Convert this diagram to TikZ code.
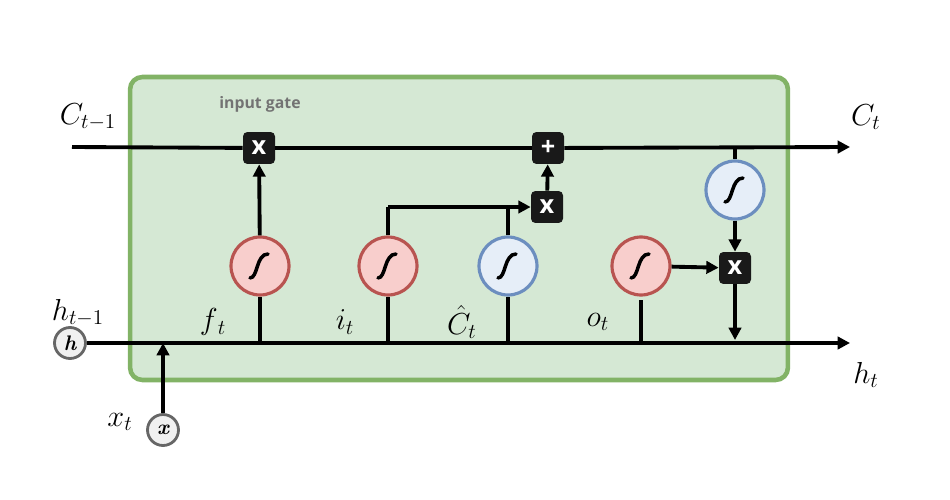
\documentclass[tikz,border=0pt]{standalone}
\usepackage{fontspec}
\newfontfamily\labfont{Open Sans}
\usetikzlibrary{arrows.meta}
\definecolor{boxfill}{HTML}{D5E8D4}
\definecolor{boxline}{HTML}{82B366}
\definecolor{redfill}{HTML}{F8CECC}
\definecolor{redline}{HTML}{B85450}
\definecolor{bluefill}{HTML}{E6EEF8}
\definecolor{blueline}{HTML}{6C8EBF}
\begin{document}
\begin{tikzpicture}[x=0.02cm,y=-0.02cm,
  ln/.style={line width=2.2pt,black},
  arr/.style={ln,-{Triangle[length=7pt,width=7pt]}},
  op/.style={fill=black!90,rounded corners=2.5pt,minimum size=0.64cm,inner sep=0pt,text=white,font=\labfont\bfseries\Large},
  sig/.style={circle,minimum size=1.16cm,line width=1.8pt,inner sep=0pt},
  rsig/.style={sig,fill=redfill,draw=redline},
  bsig/.style={sig,fill=bluefill,draw=blueline},
  io/.style={circle,minimum size=0.62cm,inner sep=0pt,draw=gray!80!black,line width=1.6pt,fill=gray!12,font=\bfseries\itshape\large},
  lab/.style={font=\LARGE\itshape}]
\useasboundingbox (0,0) rectangle (950,500);
\node[draw=boxline,fill=boxfill,line width=2.6pt,rounded corners=7pt,minimum width=13.16cm,minimum height=6.06cm] (box) at (459,228.5) {};
% nodes
\node[op] (m1) at (259,148) {x};
\node[op] (p1) at (548,148) {+};
\node[op] (m2) at (547,207) {x};
\node[op] (m3) at (735,268) {x};
\node[rsig] (sf) at (260,266) {};
\node[rsig] (si) at (388,266) {};
\node[bsig] (sc) at (508,266) {};
\node[rsig] (so) at (641,266) {};
\node[bsig] (st) at (735,190) {};
\foreach \n in {sf,si,sc,so,st}{
  \draw[line width=2pt,line cap=round] ([shift={(-10,12)}]\n.center) .. controls ([shift={(-2,12)}]\n.center) and ([shift={(-4,-12)}]\n.center) .. ([shift={(8,-12)}]\n.center);}
\node[io] (h) at (70,343) {h};
\node[io] (x) at (163,430) {x};
\coordinate (cin) at (72,147);
\coordinate (cout) at (850,147);
\coordinate (hout) at (850,343);
\coordinate (xj) at (163,343);
\coordinate (fj) at (260,343);
\coordinate (ij) at (388,343);
\coordinate (cj) at (508,343);
\coordinate (oj) at (641,343);
\coordinate (oe) at (641,300);
\coordinate (ih) at (388,207);
\coordinate (ch) at (508,207);
\coordinate (tj) at (735,147);
\coordinate (hj) at (735,340);
% connectors
\draw[ln] (cin) -- (m1);
\draw[ln] (m1) -- (p1);
\draw[arr] (p1) -- (cout);
\draw[arr] (h) -- (hout);
\draw[arr] (x) -- (xj);
\draw[ln] (fj) -- (sf);
\draw[arr] (sf) -- (m1);
\draw[ln] (ij) -- (si);
\draw[ln] (si) -- (ih);
\draw[arr] (ih) -- (m2);
\draw[ln] (cj) -- (sc);
\draw[ln] (sc) -- (ch);
\draw[arr] (m2) -- (p1);
\draw[ln] (oj) -- (oe);
\draw[arr] (so) -- (m3);
\draw[ln] (tj) -- (st);
\draw[arr] (st) -- (m3);
\draw[arr] (m3) -- (hj);
% labels
\node[font=\labfont\bfseries\small,text=gray!90!black] (ig) at (260,104) {input gate};
\node[lab] (lc0) at (88,117) {$C_{t\mathrm{-}1}$};
\node[lab] (lc1) at (866,117) {$C_t$};
\node[lab] (lh0) at (78,313) {$h_{t\mathrm{-}1}$};
\node[lab] (lh1) at (866,375) {$h_t$};
\node[lab] (lx) at (120,422) {$x_t$};
\node[lab] (lf) at (213,322) {$f_{\,t}$};
\node[lab] (li) at (345,322) {$i_t$};
\node[lab] (lch) at (462,322) {$\hat{C}_t$};
\node[lab] (lo) at (598,322) {$o_t$};
\end{tikzpicture}
\end{document}
